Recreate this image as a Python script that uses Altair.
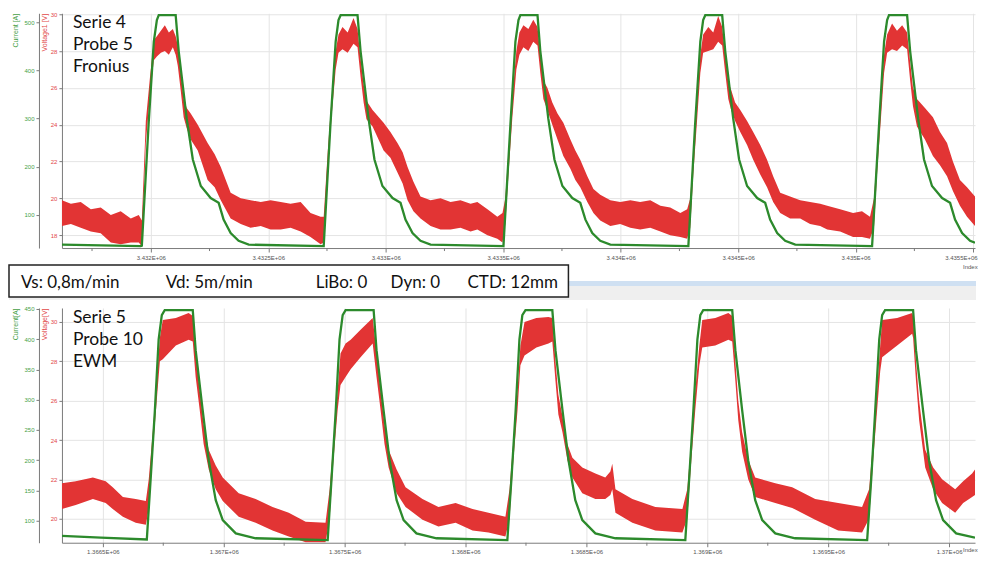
import altair as alt
import pandas as pd

RED = "#e23434"
GREEN = "#2c8a2c"
GREEN_TXT = "#46a046"
RED_TXT = "#e24848"
GRID = "#e4e4e4"
AXC = "#7a7a7a"

# ---------------- Top panel (Serie 4 / Probe 5 / Fronius) ----------------
top_cur_idx = [
    3431622, 3431957,
    3431962, 3431991, 3432013, 3432026, 3432034, 3432106, 3432119, 3432136, 3432153, 3432179, 3432213, 3432255, 3432289, 3432310, 3432340, 3432374, 3432417,
    3432736, 3432765, 3432787, 3432799, 3432808, 3432880, 3432893, 3432910, 3432927, 3432952, 3432986, 3433029, 3433063, 3433084, 3433114, 3433148, 3433191,
    3433501, 3433531, 3433552, 3433565, 3433573, 3433646, 3433658, 3433675, 3433692, 3433718, 3433752, 3433794, 3433828, 3433850, 3433879, 3433913, 3433956,
    3434288, 3434317, 3434339, 3434351, 3434360, 3434432, 3434445, 3434462, 3434479, 3434504, 3434538, 3434581, 3434615, 3434636, 3434666, 3434700, 3434743,
    3435070, 3435100, 3435121, 3435134, 3435142, 3435219, 3435232, 3435249, 3435266, 3435291, 3435325, 3435368, 3435402, 3435423, 3435453, 3435487, 3435508,
]
top_cur = [
    38, 35,
    36, 290, 460, 505, 515, 515, 440, 370, 300, 215, 160, 135, 125, 90, 62, 46, 38,
    35, 290, 460, 505, 515, 515, 440, 370, 300, 215, 160, 135, 125, 90, 62, 46, 38,
    35, 290, 460, 505, 515, 515, 440, 370, 300, 215, 160, 135, 125, 90, 62, 46, 38,
    35, 290, 460, 505, 515, 515, 440, 370, 300, 215, 160, 135, 125, 90, 62, 46, 38,
    35, 290, 460, 505, 515, 515, 440, 370, 300, 215, 160, 135, 125, 90, 62, 46, 42,
]

top_volt_idx = [
    3431622, 3431660, 3431702, 3431745, 3431787, 3431830, 3431872, 3431915, 3431949,
    3431962, 3431979, 3431996, 3432013, 3432026, 3432043, 3432060, 3432077, 3432094, 3432106,
    3432115, 3432128, 3432140, 3432153, 3432170, 3432200, 3432242, 3432272, 3432298, 3432340,
    3432383, 3432425, 3432468, 3432510, 3432553, 3432595, 3432638, 3432680, 3432723,
    3432736, 3432753, 3432770, 3432787, 3432799, 3432816, 3432838, 3432863, 3432880, 3432893,
    3432906, 3432918, 3432944, 3432991, 3433020, 3433050, 3433072, 3433093, 3433118, 3433148,
    3433191, 3433233, 3433276, 3433318, 3433361, 3433390, 3433433, 3433475, 3433497,
    3433509, 3433522, 3433539, 3433556, 3433569, 3433586, 3433607, 3433628, 3433646, 3433658,
    3433671, 3433688, 3433709, 3433731, 3433756, 3433786, 3433807, 3433828, 3433858, 3433884,
    3433913, 3433956, 3433998, 3434041, 3434083, 3434126, 3434169, 3434211, 3434254, 3434283,
    3434296, 3434309, 3434326, 3434339, 3434351, 3434373, 3434394, 3434415, 3434432, 3434445,
    3434458, 3434470, 3434487, 3434509, 3434538, 3434564, 3434594, 3434623, 3434649, 3434679,
    3434721, 3434764, 3434806, 3434849, 3434879, 3434934, 3434989, 3435027, 3435061,
    3435078, 3435091, 3435108, 3435121, 3435134, 3435155, 3435176, 3435198, 3435219, 3435232,
    3435244, 3435261, 3435295, 3435329, 3435359, 3435389, 3435414, 3435444, 3435474, 3435508,
]
top_volt_hi = [
    19.9, 19.7, 19.8, 19.4, 19.5, 19.1, 19.3, 18.9, 19.1,
    18.8, 24.2, 26.5, 28.6, 28.8, 29.1, 29.4, 29.0, 29.2, 28.8,
    28.3, 26.8, 25.4, 24.9, 24.6, 24.0, 23.0, 22.4, 21.7, 20.3,
    20.0, 19.9, 19.8, 19.9, 19.8, 19.7, 19.8, 19.2, 19.0,
    19.0, 22.5, 25.5, 28.0, 28.9, 29.3, 29.0, 29.8, 29.2, 27.6,
    26.2, 25.3, 24.8, 24.1, 23.6, 23.0, 22.5, 21.7, 20.9, 20.1,
    19.9, 20.0, 19.8, 19.9, 19.7, 19.8, 19.4, 19.0, 19.2,
    20.0, 22.5, 25.5, 28.0, 29.0, 29.4, 29.2, 29.7, 29.3, 27.8,
    26.4, 26.0, 25.2, 24.6, 24.1, 23.2, 22.6, 22.1, 21.2, 20.5,
    20.2, 19.9, 19.8, 19.9, 19.8, 19.9, 19.6, 19.5, 19.2, 19.4,
    20.0, 22.5, 25.5, 27.8, 28.9, 29.3, 29.0, 29.9, 29.3, 27.8,
    26.3, 25.9, 25.2, 24.8, 24.2, 23.6, 22.9, 22.1, 21.2, 20.3,
    20.1, 19.9, 19.8, 19.7, 19.6, 19.4, 19.2, 19.3, 19.0,
    20.0, 22.5, 25.5, 27.8, 28.9, 29.5, 29.1, 29.4, 29.0, 27.4,
    26.0, 25.4, 24.9, 24.4, 23.6, 23.0, 22.0, 21.0, 20.6, 20.1,
]
top_volt_lo = [
    18.5, 18.6, 18.4, 18.2, 18.1, 17.6, 17.5, 17.6, 17.6,
    17.4, 23.0, 25.5, 27.5, 27.7, 27.9, 28.0, 27.8, 28.2, 27.8,
    27.2, 25.8, 24.4, 23.8, 23.2, 22.6, 21.0, 20.6, 19.9, 18.9,
    18.6, 18.4, 18.5, 18.3, 18.3, 18.4, 18.2, 17.9, 17.5,
    17.6, 21.3, 24.5, 27.0, 27.9, 28.1, 27.9, 28.4, 28.2, 26.6,
    25.2, 24.3, 23.9, 22.6, 22.2, 21.4, 20.8, 19.9, 19.3, 18.9,
    18.5, 18.3, 18.3, 18.4, 18.2, 18.3, 18.0, 17.8, 17.6,
    18.6, 21.2, 24.4, 27.0, 27.8, 28.2, 28.0, 28.5, 28.3, 26.8,
    25.4, 24.8, 24.0, 23.2, 22.3, 21.6, 21.0, 20.6, 19.8, 19.2,
    18.8, 18.5, 18.6, 18.4, 18.3, 18.4, 18.2, 18.0, 17.9, 17.8,
    18.4, 21.3, 24.4, 26.8, 27.9, 28.0, 28.1, 28.5, 28.3, 26.8,
    25.4, 24.8, 24.2, 23.6, 22.9, 22.1, 21.3, 20.6, 19.8, 19.2,
    18.9, 18.9, 18.6, 18.5, 18.3, 18.2, 17.9, 17.9, 17.8,
    18.4, 21.3, 24.4, 26.8, 27.9, 28.1, 28.0, 28.3, 28.1, 26.4,
    25.0, 23.9, 23.2, 22.3, 21.8, 21.2, 20.4, 19.6, 19.0, 18.5,
]

top_x_domain = [3431622, 3435508]
top_x_ticks = [3432000, 3432500, 3433000, 3433500, 3434000, 3434500, 3435000, 3435500]
top_x_minor = [3431750, 3432250, 3432750, 3433250, 3433750, 3434250, 3434750, 3435250]
top_v_domain = [17.3, 30.05]
top_v_ticks = [18, 20, 22, 24, 26, 28, 30]
top_c_domain = [31, 519]
top_c_ticks = [100, 200, 300, 400, 500]
top_label = ["Serie 4\nProbe 5\nFronius"]

# ---------------- Bottom panel (Serie 5 / Probe 10 / EWM) ----------------
bot_cur_idx = [
    1366331, 1366492,
    1366682, 1366698, 1366715, 1366731, 1366744, 1366756, 1366872, 1366884, 1366913, 1366938, 1366967, 1366996, 1367050, 1367132,
    1367430, 1367446, 1367463, 1367479, 1367492, 1367504, 1367620, 1367632, 1367661, 1367686, 1367715, 1367744, 1367797, 1367880,
    1368173, 1368190, 1368207, 1368223, 1368235, 1368248, 1368359, 1368372, 1368401, 1368426, 1368454, 1368483, 1368537, 1368620,
    1368909, 1368925, 1368942, 1368959, 1368971, 1368983, 1369103, 1369116, 1369144, 1369169, 1369198, 1369227, 1369281, 1369363,
    1369661, 1369678, 1369694, 1369711, 1369723, 1369735, 1369851, 1369863, 1369892, 1369917, 1369946, 1369975, 1370029, 1370107,
]
bot_cur = [
    75, 72,
    69, 170, 280, 400, 440, 448, 448, 382, 283, 200, 134, 101, 79, 71,
    68, 170, 280, 400, 440, 448, 448, 382, 283, 200, 134, 101, 79, 71,
    68, 170, 280, 400, 440, 448, 448, 382, 283, 200, 134, 101, 79, 71,
    68, 170, 280, 400, 440, 448, 448, 382, 283, 200, 134, 101, 79, 71,
    68, 170, 280, 400, 440, 448, 448, 382, 283, 200, 134, 101, 79, 72,
]

bot_volt_idx = [
    1366331, 1366388, 1366459, 1366512, 1366541, 1366583, 1366636, 1366678,
    1366690, 1366707, 1366723, 1366736, 1366748, 1366802, 1366855, 1366872, 1366884, 1366901,
    1366917, 1366938, 1366967, 1366996, 1367062, 1367132, 1367202, 1367269, 1367339, 1367421,
    1367438, 1367454, 1367471, 1367483, 1367504, 1367525, 1367566, 1367616, 1367632, 1367649,
    1367665, 1367682, 1367715, 1367752, 1367822, 1367888, 1367959, 1368029, 1368095, 1368165,
    1368182, 1368198, 1368215, 1368227, 1368244, 1368293, 1368343, 1368359, 1368372, 1368384,
    1368401, 1368421, 1368442, 1368483, 1368537, 1368578, 1368599, 1368607, 1368620, 1368690,
    1368785, 1368897,
    1368917, 1368934, 1368950, 1368967, 1368979, 1369033, 1369087, 1369103, 1369116, 1369128,
    1369144, 1369169, 1369198, 1369281, 1369351, 1369446, 1369541, 1369640,
    1369669, 1369686, 1369702, 1369715, 1369723, 1369785, 1369847, 1369851, 1369863, 1369876,
    1369901, 1369934, 1369971, 1370025, 1370058, 1370095, 1370107,
]
bot_volt_hi = [
    21.8, 21.9, 22.1, 21.9, 21.6, 21.1, 21.0, 20.9,
    22.0, 24.5, 27.0, 29.2, 30.1, 30.2, 30.45, 30.3, 28.5, 26.5,
    24.8, 23.5, 22.7, 22.1, 21.3, 21.0, 20.6, 20.3, 19.85, 19.8,
    21.5, 24.0, 26.5, 28.4, 28.9, 29.1, 29.6, 30.2, 28.5, 26.5,
    24.8, 23.5, 22.5, 21.6, 21.0, 20.6, 20.8, 20.5, 20.3, 20.1,
    21.5, 24.0, 26.5, 28.8, 30.0, 30.2, 30.25, 30.2, 28.0, 26.3,
    25.2, 23.8, 23.1, 22.6, 22.3, 22.1, 22.4, 22.8, 21.5, 21.0,
    20.6, 20.5,
    21.5, 24.0, 26.5, 28.8, 30.1, 30.2, 30.45, 30.3, 28.0, 26.0,
    24.4, 23.0, 22.1, 21.8, 21.6, 21.0, 20.8, 20.6,
    21.5, 24.0, 26.5, 28.8, 30.1, 30.2, 30.45, 30.3, 28.0, 26.0,
    23.5, 22.6, 22.0, 21.5, 21.9, 22.3, 22.5,
]
bot_volt_lo = [
    20.5, 20.7, 21.0, 20.8, 20.5, 20.1, 19.8, 19.7,
    20.5, 23.5, 26.0, 28.0, 28.1, 28.8, 29.1, 29.0, 27.2, 25.5,
    23.8, 22.5, 21.5, 20.9, 20.1, 19.8, 19.4, 19.1, 18.8, 18.8,
    20.0, 23.0, 25.5, 26.8, 27.2, 27.6, 28.2, 28.9, 27.2, 25.5,
    23.8, 22.6, 21.3, 20.6, 19.95, 19.6, 19.8, 19.4, 19.3, 19.1,
    20.0, 23.0, 25.5, 27.8, 28.3, 28.7, 28.9, 29.0, 27.0, 25.3,
    24.4, 23.0, 22.1, 21.3, 21.0, 21.0, 21.2, 21.5, 20.3, 19.8,
    19.4, 19.3,
    20.0, 23.0, 25.5, 27.8, 28.7, 28.8, 29.1, 29.0, 27.0, 25.0,
    23.4, 22.0, 21.1, 20.8, 20.55, 19.95, 19.4, 19.3,
    20.0, 23.0, 25.5, 27.5, 28.2, 28.8, 29.4, 29.2, 27.0, 25.0,
    22.6, 21.5, 20.8, 20.3, 20.8, 21.1, 21.2,
]

bot_x_domain = [1366331, 1370107]
bot_x_ticks = [1366500, 1367000, 1367500, 1368000, 1368500, 1369000, 1369500, 1370000]
bot_x_minor = [1366750, 1367250, 1367750, 1368250, 1368750, 1369250, 1369750]
bot_v_domain = [18.78, 30.71]
bot_v_ticks = [20, 22, 24, 26, 28, 30]
bot_c_domain = [63.6, 451.7]
bot_c_ticks = [100, 150, 200, 250, 300, 350, 400, 450]
bot_label = ["Serie 5\nProbe 10\nEWM"]

# ---------------- Parameter box between the panels ----------------
box_texts = ["Vs: 0,8m/min", "Vd: 5m/min", "LiBo: 0", "Dyn: 0", "CTD: 12mm"]
box_text_x = [-41, 104, 254, 329, 406]

W = 914
H = 235


def one_row():
    return pd.DataFrame({"k": [0]})


def panel(cur_idx, cur_val, v_idx, v_hi, v_lo, xdom, xticks, xminor, vdom, vticks,
          cdom, cticks, vtitle, ctitle, label, index_y, extra=()):
    cur_df = pd.DataFrame({"idx": cur_idx, "cur": cur_val})
    volt_df = pd.DataFrame({"idx": v_idx, "hi": v_hi, "lo": v_lo})
    xscale = alt.Scale(domain=xdom, nice=False, zero=False)
    xaxis = alt.Axis(
        values=xticks, title=None,
        labelExpr="format(datum.value / 1000000, '') + 'E+06'",
        grid=True, gridColor=GRID, domainColor=AXC, tickColor=AXC, tickSize=4,
        labelFontSize=6, labelColor="#555", labelPadding=2,
        labelOverlap=False, labelFlush=5, labelFlushOffset=4,
    )
    X = alt.X("idx:Q", scale=xscale, axis=xaxis)

    volt = alt.Chart(volt_df).mark_area(color=RED, opacity=1, clip=True).encode(
        x=X,
        y=alt.Y("hi:Q", scale=alt.Scale(domain=vdom, nice=False, zero=False),
                axis=alt.Axis(values=vticks, orient="left", title=vtitle,
                              titleX=-17, titleY=0, titleAngle=270, titleAlign="right",
                              titleBaseline="middle", titleColor=RED_TXT, titleFontSize=7,
                              titleFontWeight="normal", labelColor=RED_TXT, labelFontSize=6,
                              grid=True, gridColor=GRID, domainColor=AXC, tickColor=AXC,
                              tickSize=3, labelPadding=2)),
        y2="lo:Q",
    )
    cur = alt.Chart(cur_df).mark_line(color=GREEN, strokeWidth=2.3, clip=True).encode(
        x=X,
        y=alt.Y("cur:Q", scale=alt.Scale(domain=cdom, nice=False, zero=False),
                axis=alt.Axis(values=cticks, orient="left", offset=23, title=ctitle,
                              titleX=-23, titleY=0, titleAngle=270, titleAlign="right",
                              titleBaseline="middle", titleColor=GREEN_TXT, titleFontSize=7,
                              titleFontWeight="normal", labelColor=GREEN_TXT, labelFontSize=6,
                              grid=False, domainColor=AXC, tickColor=AXC, tickSize=3,
                              labelPadding=2)),
    )
    minor = alt.Chart(pd.DataFrame({"idx": xminor})).mark_rule(color=AXC).encode(
        x=X, y=alt.value(H), y2=alt.value(H + 3)
    )
    txt = alt.Chart(pd.DataFrame({"label": label})).mark_text(
        font="Lato", fontSize=17.5, align="left", baseline="alphabetic",
        lineBreak="\n", lineHeight=22, color="#111"
    ).encode(x=alt.value(11), y=alt.value(15), text="label:N")
    idx_lbl = alt.Chart(one_row()).mark_text(
        fontSize=6, color="#555", align="left", baseline="middle"
    ).encode(x=alt.value(902), y=alt.value(index_y), text=alt.value("Index"))
    layers = [volt, cur, minor, txt, idx_lbl] + list(extra)
    return alt.layer(*layers).resolve_scale(y="independent").properties(width=W, height=H)


gray_band = alt.Chart(one_row()).mark_rect(color="#efefef").encode(
    x=alt.value(-53), x2=alt.value(915), y=alt.value(H + 38), y2=alt.value(H + 52)
)
blue_band = alt.Chart(one_row()).mark_rect(color="#cfe0f2").encode(
    x=alt.value(507), x2=alt.value(915), y=alt.value(H + 33), y2=alt.value(H + 38)
)
box = alt.Chart(one_row()).mark_rect(fill="white", stroke="#222", strokeWidth=1.5).encode(
    x=alt.value(-53), x2=alt.value(507), y=alt.value(H + 17), y2=alt.value(H + 49)
)
box_layers = [gray_band, blue_band, box]
for t, px in zip(box_texts, box_text_x):
    box_layers.append(
        alt.Chart(one_row()).mark_text(
            font="Lato", fontSize=17, align="left", baseline="alphabetic", color="#111"
        ).encode(x=alt.value(px), y=alt.value(H + 40), text=alt.value(t))
    )

top = panel(top_cur_idx, top_cur, top_volt_idx, top_volt_hi, top_volt_lo,
            top_x_domain, top_x_ticks, top_x_minor, top_v_domain, top_v_ticks,
            top_c_domain, top_c_ticks, "Voltage1 [V]", "Current [A]", top_label,
            H + 19, box_layers)
bottom = panel(bot_cur_idx, bot_cur, bot_volt_idx, bot_volt_hi, bot_volt_lo,
               bot_x_domain, bot_x_ticks, bot_x_minor, bot_v_domain, bot_v_ticks,
               bot_c_domain, bot_c_ticks, "Voltage[V]", "Current[A]", bot_label,
               H + 7)

chart = alt.vconcat(top, bottom, spacing=60, bounds="flush").properties(
    padding={"left": 0, "top": 2, "right": 0, "bottom": 0}
).configure(font="Liberation Sans").configure_view(stroke=None)

chart.save("out.html", embed_options={"renderer": "svg", "actions": False})
